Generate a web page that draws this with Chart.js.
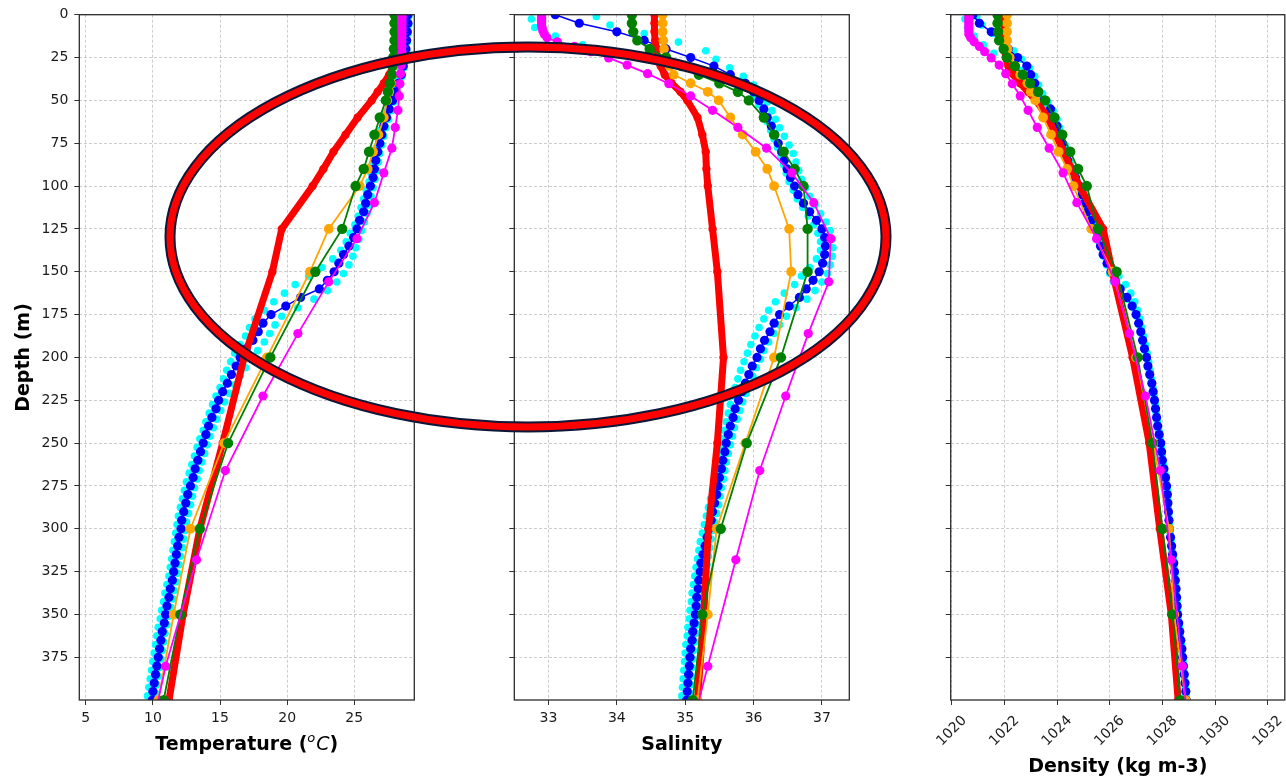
<!DOCTYPE html>
<html>
<head>
<meta charset="utf-8">
<script src="https://cdn.jsdelivr.net/npm/chart.js@4.4.1/dist/chart.umd.min.js"></script>
<style>
    html, body { margin: 0; padding: 0; background: #fff; overflow: hidden; }
    #wrap { position: relative; width: 1286px; height: 777px; overflow: hidden; }
    canvas { position: absolute; top: 0; }
    #tempChart { left: 0; }
    #salChart { left: 440px; }
    #densChart { left: 880px; }
    #overlay { left: 0; pointer-events: none; }
</style>
</head>
<body>
<div id="wrap">
    <canvas id="tempChart" width="440" height="777"></canvas>
    <canvas id="salChart" width="440" height="777"></canvas>
    <canvas id="densChart" width="410" height="777"></canvas>
    <canvas id="overlay" width="1286" height="777"></canvas>
</div>
<script>
// depth levels (m)
const floatDepth = [0,5,10,15,20,25,30,35,40,45,50,55,60,65,70,75,80,85,90,95,100,105,110,115,120,125,130,135,140,145,150,155,160,165,170,175,180,185,190,195,200,205,210,215,220,225,230,235,240,245,250,255,260,265,270,275,280,285,290,295,300,305,310,315,320,325,330,335,340,345,350,355,360,365,370,375,380,385,390,395,400];
const castADepth = [2.5,7.5,12.5,17.5,22.5,27.5,32.5,37.5,42.5,47.5,52.5,57.5,62.5,67.5,72.5,77.5,82.5,87.5,92.5,97.5,102.5,107.5,112.5,117.5,122.5,127.5,132.5,137.5,142.5,147.5,152.5,157.5,162.5,167.5,172.5,177.5,182.5,187.5,192.5,197.5,202.5,207.5,212.5,217.5,222.5,227.5,232.5,237.5,242.5,247.5,252.5,257.5,262.5,267.5,272.5,277.5,282.5,287.5,292.5,297.5,302.5,307.5,312.5,317.5,322.5,327.5,332.5,337.5,342.5,347.5,352.5,357.5,362.5,367.5,372.5,377.5,382.5,387.5,392.5,397.5];
const castBDepth = [1,6,11,16,21,26,31,36,41,46,51,56,61,66,71,76,81,86,91,96,101,106,111,116,121,126,131,136,141,146,151,156,161,166,171,176,181,186,191,196,201,206,211,216,221,226,231,236,241,246,251,256,261,266,271,276,281,286,291,296,301,306,311,316,321,326,331,336,341,346,351,356,361,366,371,376,381,386,391,396];
const modelDepth = [0.5,1.5,2.6,3.8,5.1,6.4,7.9,9.6,11.4,13.5,15.8,18.5,21.6,25.2,29.4,34.4,40.3,47.4,55.8,65.8,77.9,92.3,109.7,130.7,155.9,186.1,222.5,266.0,318.1,380.2,453.9];
const stdDepth = [0,5,10,15,20,25,30,35,40,45,50,60,70,80,90,100,125,150,200,250,300,350,400];

// temperature (degC)
const floatTemp = [29.0,29.0,28.95,28.9,28.85,28.75,28.65,28.5,28.3,28.1,27.85,27.6,27.4,27.2,27.05,26.9,26.75,26.6,26.5,26.4,26.2,26.0,25.85,25.7,25.4,25.2,24.95,24.6,24.2,23.85,23.5,23.0,22.4,21.0,19.9,18.8,18.2,17.85,17.45,16.95,16.5,16.2,15.85,15.55,15.2,14.9,14.7,14.4,14.15,13.95,13.75,13.55,13.35,13.15,13.0,12.8,12.6,12.45,12.3,12.15,12.1,11.95,11.85,11.75,11.65,11.55,11.45,11.3,11.2,11.05,10.95,10.85,10.7,10.6,10.5,10.4,10.3,10.2,10.1,10.0,9.95];
const castATemp = [28.9,28.9,28.85,28.8,28.7,28.6,28.45,28.25,28.0,27.8,27.55,27.3,27.1,26.95,26.8,26.65,26.5,26.35,26.25,26.1,25.9,25.7,25.5,25.3,25.05,24.7,24.4,24.0,23.4,22.6,21.6,20.6,19.8,19.0,18.3,17.6,17.2,16.9,16.5,16.1,15.8,15.5,15.25,15.0,14.7,14.45,14.2,13.95,13.75,13.5,13.3,13.1,12.9,12.7,12.5,12.35,12.2,12.05,11.9,11.8,11.7,11.6,11.5,11.4,11.3,11.2,11.05,10.9,10.8,10.65,10.55,10.4,10.3,10.2,10.1,10.0,9.9,9.8,9.7,9.6];
const castBTemp = [29.05,29.05,29.0,28.95,28.9,28.8,28.7,28.55,28.4,28.2,27.95,27.75,27.55,27.35,27.2,27.05,26.9,26.8,26.7,26.55,26.4,26.25,26.1,25.95,25.75,25.55,25.35,25.1,24.9,24.6,24.2,23.7,23.0,22.0,20.8,19.6,19.1,18.7,18.3,17.8,17.3,16.9,16.5,16.1,15.7,15.35,15.05,14.75,14.5,14.25,14.05,13.85,13.65,13.45,13.3,13.1,12.95,12.8,12.65,12.5,12.4,12.3,12.2,12.05,11.95,11.85,11.75,11.6,11.5,11.35,11.2,11.05,10.9,10.8,10.7,10.6,10.5,10.4,10.3,10.2];
const modelTemp = [28.55,28.55,28.55,28.55,28.55,28.55,28.55,28.55,28.55,28.55,28.55,28.55,28.55,28.52,28.5,28.45,28.4,28.35,28.25,28.05,27.8,27.2,26.5,25.2,23.1,20.8,18.2,15.4,13.25,10.95,8.9];
const climGTemp = [28.0,28.0,28.0,28.0,27.95,27.9,27.85,27.8,27.65,27.5,27.35,26.9,26.5,26.1,25.7,25.1,24.1,22.1,18.75,15.6,13.5,12.05,10.8];
const climOTemp = [28.0,28.0,28.0,28.0,28.0,27.95,27.9,27.85,27.75,27.6,27.45,27.2,26.8,26.4,26.0,25.4,23.1,21.7,18.5,15.3,12.8,11.55,10.4];
const meanTemp = [28.1,28.1,28.1,28.1,28.05,28.0,27.9,27.6,27.2,26.75,26.3,25.25,24.35,23.45,22.7,21.9,19.6,18.9,16.8,15.2,13.5,12.25,11.2];

// salinity
const floatSal = [33.1,33.45,34.0,34.4,34.72,35.08,35.42,35.66,35.88,36.0,36.08,36.15,36.2,36.26,36.31,36.36,36.41,36.45,36.49,36.54,36.6,36.65,36.73,36.82,36.92,37.0,37.04,37.05,37.04,37.01,36.96,36.87,36.77,36.67,36.52,36.38,36.3,36.24,36.16,36.1,36.05,35.98,35.93,35.88,35.83,35.78,35.73,35.7,35.66,35.63,35.6,35.58,35.55,35.53,35.5,35.48,35.46,35.43,35.4,35.38,35.35,35.32,35.29,35.26,35.23,35.22,35.2,35.19,35.17,35.16,35.15,35.13,35.11,35.1,35.08,35.07,35.06,35.05,35.04,35.03,35.02];
const castASal = [32.75,32.8,33.1,33.5,34.0,34.6,35.2,35.6,35.85,36.0,36.08,36.14,36.2,36.25,36.3,36.35,36.4,36.44,36.48,36.52,36.58,36.64,36.72,36.8,36.88,36.94,36.98,36.98,36.92,36.82,36.7,36.6,36.45,36.32,36.22,36.15,36.08,36.02,35.96,35.91,35.86,35.81,35.77,35.73,35.69,35.66,35.63,35.6,35.57,35.54,35.51,35.49,35.46,35.44,35.42,35.4,35.37,35.34,35.31,35.28,35.25,35.22,35.2,35.18,35.16,35.14,35.12,35.1,35.09,35.07,35.06,35.04,35.03,35.01,35.0,34.99,34.98,34.97,34.96,34.95];
const castBSal = [33.7,33.9,34.4,34.9,35.3,35.45,35.65,35.85,36.0,36.12,36.2,36.27,36.32,36.38,36.45,36.52,36.58,36.62,36.66,36.7,36.76,36.82,36.9,36.98,37.06,37.12,37.15,37.16,37.15,37.12,37.08,37.0,36.9,36.78,36.62,36.48,36.38,36.3,36.22,36.15,36.1,36.04,35.99,35.94,35.89,35.84,35.8,35.76,35.72,35.69,35.66,35.63,35.6,35.58,35.56,35.53,35.51,35.49,35.46,35.43,35.4,35.38,35.36,35.34,35.32,35.3,35.28,35.26,35.24,35.22,35.2,35.18,35.16,35.14,35.12,35.11,35.1,35.09,35.08,35.07];
const modelSal = [32.9,32.9,32.9,32.9,32.9,32.9,32.91,32.92,32.94,32.98,33.13,33.38,33.62,33.88,34.15,34.45,34.76,35.08,35.4,35.77,36.19,36.56,36.88,37.13,37.1,36.8,36.47,36.09,35.74,35.33,34.85];
const climGSal = [34.22,34.22,34.24,34.3,34.48,34.72,34.95,35.2,35.5,35.77,35.93,36.15,36.3,36.44,36.6,36.73,36.79,36.79,36.4,35.9,35.52,35.25,35.11];
const climOSal = [34.67,34.67,34.67,34.68,34.69,34.72,34.77,34.83,35.08,35.33,35.49,35.66,35.84,36.03,36.2,36.3,36.52,36.55,36.3,35.88,35.46,35.33,35.18];
const meanSal = [34.55,34.55,34.55,34.56,34.57,34.6,34.64,34.7,34.8,34.93,35.03,35.18,35.25,35.3,35.31,35.33,35.4,35.47,35.56,35.47,35.34,35.27,35.18];

// density (kg m-3)
const floatDens = [1020.8,1021.05,1021.5,1021.85,1022.15,1022.5,1022.85,1023.0,1023.15,1023.3,1023.5,1023.75,1023.9,1024.0,1024.1,1024.2,1024.3,1024.4,1024.55,1024.7,1024.85,1024.95,1025.05,1025.15,1025.3,1025.45,1025.55,1025.65,1025.75,1025.9,1026.05,1026.2,1026.4,1026.65,1026.85,1027.0,1027.1,1027.18,1027.25,1027.32,1027.4,1027.45,1027.52,1027.6,1027.65,1027.7,1027.74,1027.78,1027.82,1027.88,1027.94,1027.97,1028.0,1028.06,1028.12,1028.16,1028.19,1028.21,1028.23,1028.25,1028.27,1028.31,1028.35,1028.39,1028.43,1028.46,1028.49,1028.52,1028.54,1028.56,1028.58,1028.62,1028.66,1028.7,1028.74,1028.77,1028.8,1028.83,1028.86,1028.89,1028.91];
const castADens = [1020.5,1020.6,1020.85,1021.2,1021.6,1022.1,1022.6,1022.95,1023.2,1023.4,1023.6,1023.8,1023.95,1024.05,1024.15,1024.25,1024.35,1024.45,1024.6,1024.75,1024.9,1025.0,1025.1,1025.25,1025.4,1025.5,1025.6,1025.75,1025.9,1026.1,1026.35,1026.6,1026.8,1026.95,1027.05,1027.15,1027.22,1027.28,1027.35,1027.42,1027.48,1027.53,1027.58,1027.64,1027.69,1027.73,1027.77,1027.81,1027.86,1027.91,1027.95,1027.99,1028.03,1028.09,1028.14,1028.18,1028.2,1028.22,1028.24,1028.27,1028.3,1028.33,1028.37,1028.41,1028.44,1028.47,1028.5,1028.53,1028.55,1028.57,1028.6,1028.64,1028.68,1028.72,1028.75,1028.78,1028.81,1028.84,1028.87,1028.9];
const castBDens = [1020.95,1021.15,1021.55,1021.95,1022.35,1022.65,1022.95,1023.15,1023.3,1023.45,1023.65,1023.85,1024.0,1024.1,1024.2,1024.3,1024.4,1024.5,1024.62,1024.75,1024.88,1024.98,1025.08,1025.18,1025.32,1025.46,1025.56,1025.66,1025.76,1025.88,1026.0,1026.15,1026.35,1026.7,1026.9,1027.02,1027.12,1027.2,1027.26,1027.33,1027.41,1027.46,1027.53,1027.61,1027.66,1027.71,1027.75,1027.79,1027.83,1027.89,1027.95,1027.98,1028.01,1028.07,1028.13,1028.17,1028.2,1028.22,1028.24,1028.26,1028.28,1028.32,1028.36,1028.4,1028.44,1028.47,1028.5,1028.53,1028.55,1028.57,1028.59,1028.63,1028.67,1028.71,1028.75,1028.78,1028.81,1028.84,1028.87,1028.9];
const modelDens = [1020.65,1020.65,1020.65,1020.65,1020.65,1020.65,1020.65,1020.65,1020.65,1020.72,1020.85,1021.05,1021.25,1021.5,1021.8,1022.05,1022.3,1022.6,1022.9,1023.25,1023.7,1024.23,1024.75,1025.5,1026.2,1026.75,1027.36,1027.92,1028.34,1028.76,1029.2];
const climGDens = [1021.74,1021.74,1021.76,1021.8,1021.97,1022.1,1022.4,1022.7,1022.98,1023.28,1023.55,1023.9,1024.2,1024.5,1024.8,1025.13,1025.55,1026.26,1027.06,1027.62,1028.0,1028.38,1028.68];
const climODens = [1022.1,1022.1,1022.1,1022.1,1022.12,1022.2,1022.4,1022.6,1022.87,1023.0,1023.17,1023.47,1023.77,1024.06,1024.38,1024.62,1025.3,1026.1,1027.0,1027.65,1028.25,1028.45,1028.88];
const meanDens = [1022.0,1022.0,1022.0,1022.01,1022.02,1022.05,1022.15,1022.35,1022.6,1022.9,1023.2,1023.65,1023.95,1024.25,1024.55,1024.85,1025.75,1026.1,1026.87,1027.5,1027.9,1028.34,1028.6];

// tick labels
const depthTicks = [0,25,50,75,100,125,150,175,200,225,250,275,300,325,350,375];
const tempTicks = [5,10,15,20,25];
const salTicks = [33,34,35,36,37];
const densTicks = [1020,1022,1024,1026,1028,1030,1032];

const FONT = 'DejaVu Sans';

function pairs(depth, values) {
    return values.map((v, i) => ({x: v, y: depth[i]}));
}

function profile(data, color, width, radius, order, showLine) {
    return {
        data: data,
        order: order,
        showLine: showLine,
        borderColor: color,
        backgroundColor: color,
        pointBackgroundColor: color,
        borderWidth: width,
        pointRadius: radius,
        pointBorderWidth: 0,
        pointHoverRadius: 0,
        tension: 0,
        clip: 0
    };
}

function datasets(v) {
    return [
        profile(pairs(modelDepth, v.model), '#ff00ff', 1.8, 4.6, 0, true),
        profile(pairs(stdDepth, v.climG), '#008000', 1.8, 5.2, 1, true),
        profile(pairs(stdDepth, v.climO), '#ffa500', 1.8, 4.9, 2, true),
        profile(pairs(stdDepth, v.mean), '#ff0000', 7, 4.2, 3, true),
        profile(pairs(floatDepth, v.float), '#0000ff', 1.5, 4.6, 4, true),
        profile(pairs(castADepth, v.castA), '#00ffff', 0, 3.8, 5, false),
        profile(pairs(castBDepth, v.castB), '#00ffff', 0, 3.8, 6, false)
    ];
}

const gridOpts = {
    color: '#b8b8b8',
    lineWidth: 0.7,
    tickColor: '#333',
    tickLength: 5,
    tickWidth: 1
};

function options(p) {
    return {
        responsive: false,
        animation: false,
        events: [],
        layout: {padding: {left: 0, right: p.padRight, top: 14.7, bottom: 0}},
        plugins: {legend: {display: false}, tooltip: {enabled: false}},
        scales: {
            x: {
                type: 'linear',
                position: 'bottom',
                min: p.min,
                max: p.max,
                afterBuildTicks: s => { s.ticks = p.ticks.map(t => ({value: t})); },
                afterFit: s => { s.height = 77; },
                grid: gridOpts,
                border: {display: false, dash: [3, 2]},
                ticks: {
                    display: p.xLabels,
                    font: {family: FONT, size: 14},
                    color: '#1a1a1a',
                    padding: 5,
                    maxRotation: 0,
                    callback: val => String(val)
                }
            },
            y: {
                type: 'linear',
                reverse: true,
                min: 0,
                max: 399.9,
                afterBuildTicks: s => { s.ticks = depthTicks.map(t => ({value: t})); },
                afterFit: s => { s.width = p.yWidth; },
                grid: gridOpts,
                border: {display: false, dash: [3, 2]},
                ticks: {
                    display: p.yLabels,
                    font: {family: FONT, size: 14},
                    color: '#1a1a1a',
                    padding: 6,
                    callback: val => String(val)
                }
            }
        }
    };
}

// axes box on top of the profiles
const framePlugin = {
    id: 'frame',
    afterDraw(chart) {
        const {ctx, chartArea: a} = chart;
        ctx.save();
        ctx.strokeStyle = '#2b2b2b';
        ctx.lineWidth = 1.3;
        ctx.strokeRect(a.left, a.top, a.right - a.left, a.bottom - a.top);
        ctx.restore();
    }
};

function centreX(chart) {
    return (chart.chartArea.left + chart.chartArea.right) / 2;
}

const tempTitle = {
    id: 'tempTitle',
    afterDraw(chart) {
        const ctx = chart.ctx;
        ctx.save();
        ctx.fillStyle = '#000';
        ctx.textBaseline = 'alphabetic';
        ctx.textAlign = 'left';
        const bold = 'bold 19px ' + FONT;
        const ital = 'italic 19px ' + FONT;
        const sup = 'italic 13px ' + FONT;
        ctx.font = bold; const w1 = ctx.measureText('Temperature (').width; const w4 = ctx.measureText(')').width;
        ctx.font = sup; const w2 = ctx.measureText('o').width;
        ctx.font = ital; const w3 = ctx.measureText('C').width;
        let x = centreX(chart) - (w1 + w2 + w3 + w4 + 1) / 2;
        const y = 750;
        ctx.font = bold; ctx.fillText('Temperature (', x, y); x += w1;
        ctx.font = sup; ctx.fillText('o', x, y - 8); x += w2 + 1;
        ctx.font = ital; ctx.fillText('C', x, y); x += w3;
        ctx.font = bold; ctx.fillText(')', x, y);

        // depth axis title
        ctx.translate(29, 357.5);
        ctx.rotate(-Math.PI / 2);
        ctx.textAlign = 'center';
        ctx.fillText('Depth (m)', 0, 0);
        ctx.restore();
    }
};

const salTitle = {
    id: 'salTitle',
    afterDraw(chart) {
        const ctx = chart.ctx;
        ctx.save();
        ctx.fillStyle = '#000';
        ctx.font = 'bold 19px ' + FONT;
        ctx.textAlign = 'center';
        ctx.fillText('Salinity', centreX(chart), 750);
        ctx.restore();
    }
};

// density tick labels are turned 45 degrees about their centre
const densTitle = {
    id: 'densTitle',
    afterDraw(chart) {
        const ctx = chart.ctx;
        const xs = chart.scales.x;
        ctx.save();
        ctx.fillStyle = '#1a1a1a';
        ctx.font = '14px ' + FONT;
        ctx.textAlign = 'center';
        ctx.textBaseline = 'middle';
        densTicks.forEach(t => {
            ctx.save();
            ctx.translate(xs.getPixelForValue(t), 731);
            ctx.rotate(-Math.PI / 4);
            ctx.fillText(String(t), 0, 0);
            ctx.restore();
        });
        ctx.fillStyle = '#000';
        ctx.font = 'bold 19px ' + FONT;
        ctx.textBaseline = 'alphabetic';
        ctx.fillText('Density (kg m-3)', centreX(chart), 771.5);
        ctx.restore();
    }
};

new Chart(document.getElementById('tempChart'), {
    type: 'scatter',
    data: {datasets: datasets({model: modelTemp, climG: climGTemp, climO: climOTemp, mean: meanTemp,
        float: floatTemp, castA: castATemp, castB: castBTemp})},
    options: options({min: 4.52, max: 29.47, ticks: tempTicks, padRight: 25.7, yWidth: 79.3, yLabels: true, xLabels: true}),
    plugins: [framePlugin, tempTitle]
});

new Chart(document.getElementById('salChart'), {
    type: 'scatter',
    data: {datasets: datasets({model: modelSal, climG: climGSal, climO: climOSal, mean: meanSal,
        float: floatSal, castA: castASal, castB: castBSal})},
    options: options({min: 32.5, max: 37.4, ticks: salTicks, padRight: 30.7, yWidth: 74.3, yLabels: false, xLabels: true}),
    plugins: [framePlugin, salTitle]
});

new Chart(document.getElementById('densChart'), {
    type: 'scatter',
    data: {datasets: datasets({model: modelDens, climG: climGDens, climO: climODens, mean: meanDens,
        float: floatDens, castA: castADens, castB: castBDens})},
    options: options({min: 1019.96, max: 1032.65, ticks: densTicks, padRight: 3.5, yWidth: 70.7, yLabels: false, xLabels: false}),
    plugins: [framePlugin, densTitle]
});

// highlight ring across the upper thermocline
const ov = document.getElementById('overlay').getContext('2d');
ov.beginPath();
ov.ellipse(528, 237, 358, 190, 0, 0, 2 * Math.PI);
ov.lineWidth = 11;
ov.strokeStyle = '#0b1838';
ov.stroke();
ov.lineWidth = 7;
ov.strokeStyle = '#ff0000';
ov.stroke();
</script>
</body>
</html>
